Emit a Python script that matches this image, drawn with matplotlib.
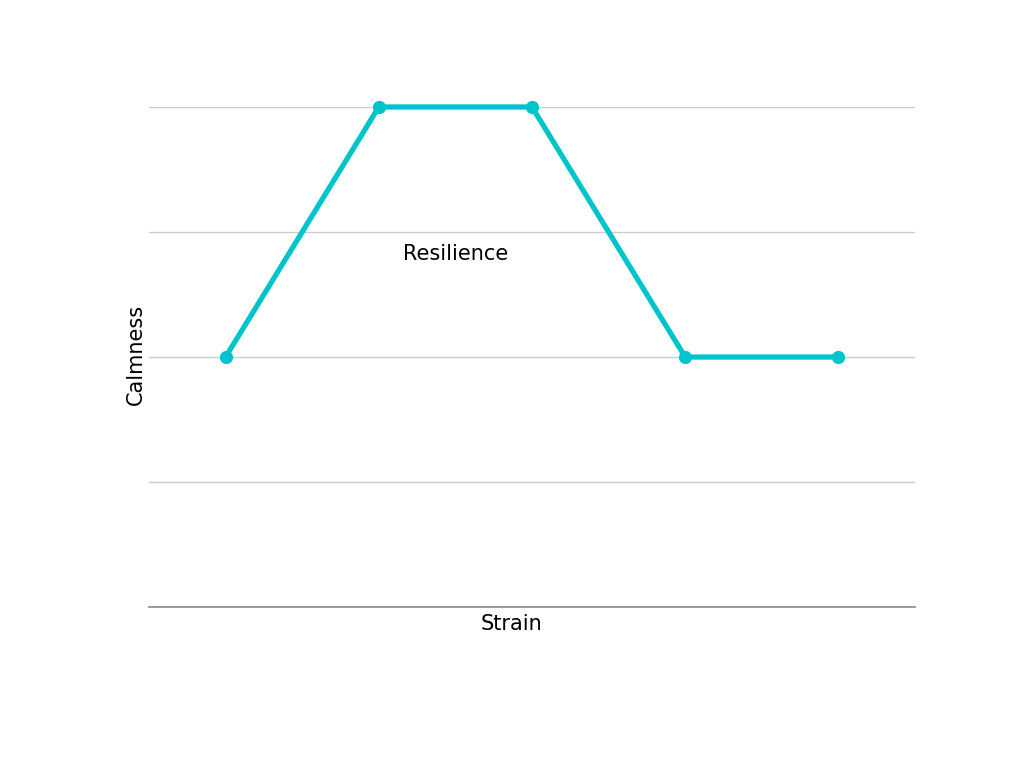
import matplotlib
matplotlib.use("Agg")
from matplotlib import pyplot as plt

# data
stages = ["1", "2", "3", "4", "5"]
calmness = [2, 4, 4, 2, 2]
label_text = "Resilience"

LINE_COLOR = "#00c4cc"

plt.rcParams["font.family"] = ["DejaVu Sans"]

fig = plt.figure(figsize=(10.24, 7.68), dpi=100)
ax = fig.add_axes([149 / 1024, 1 - 607 / 768, (915 - 149) / 1024, 500 / 768])

xs = list(range(len(stages)))
ax.plot(xs, calmness, color=LINE_COLOR, linewidth=3.8, marker="o",
        markersize=8.5, solid_capstyle="round", zorder=3, clip_on=False)

ax.set_xlim(-0.5, len(stages) - 0.5)
ax.set_ylim(0, 4)
ax.set_yticks([0, 1, 2, 3, 4])
ax.set_xticks([])
ax.tick_params(left=False, labelleft=False)
ax.yaxis.grid(True, color="#cccccc", linewidth=1)
ax.set_axisbelow(True)

for side in ["top", "right", "left"]:
    ax.spines[side].set_visible(False)
ax.spines["bottom"].set_color("#888888")
ax.spines["bottom"].set_linewidth(1.2)

ax.text(1.5, 2.82, label_text, ha="center", va="center", fontsize=15)

fig.text(511 / 1024, 1 - 624 / 768, "Strain", ha="center", va="center", fontsize=15)
fig.text(136 / 1024, 1 - 354 / 768, "Calmness", ha="center", va="center",
         rotation=90, fontsize=15)

fig.savefig("out.png", dpi=100, facecolor="white")
